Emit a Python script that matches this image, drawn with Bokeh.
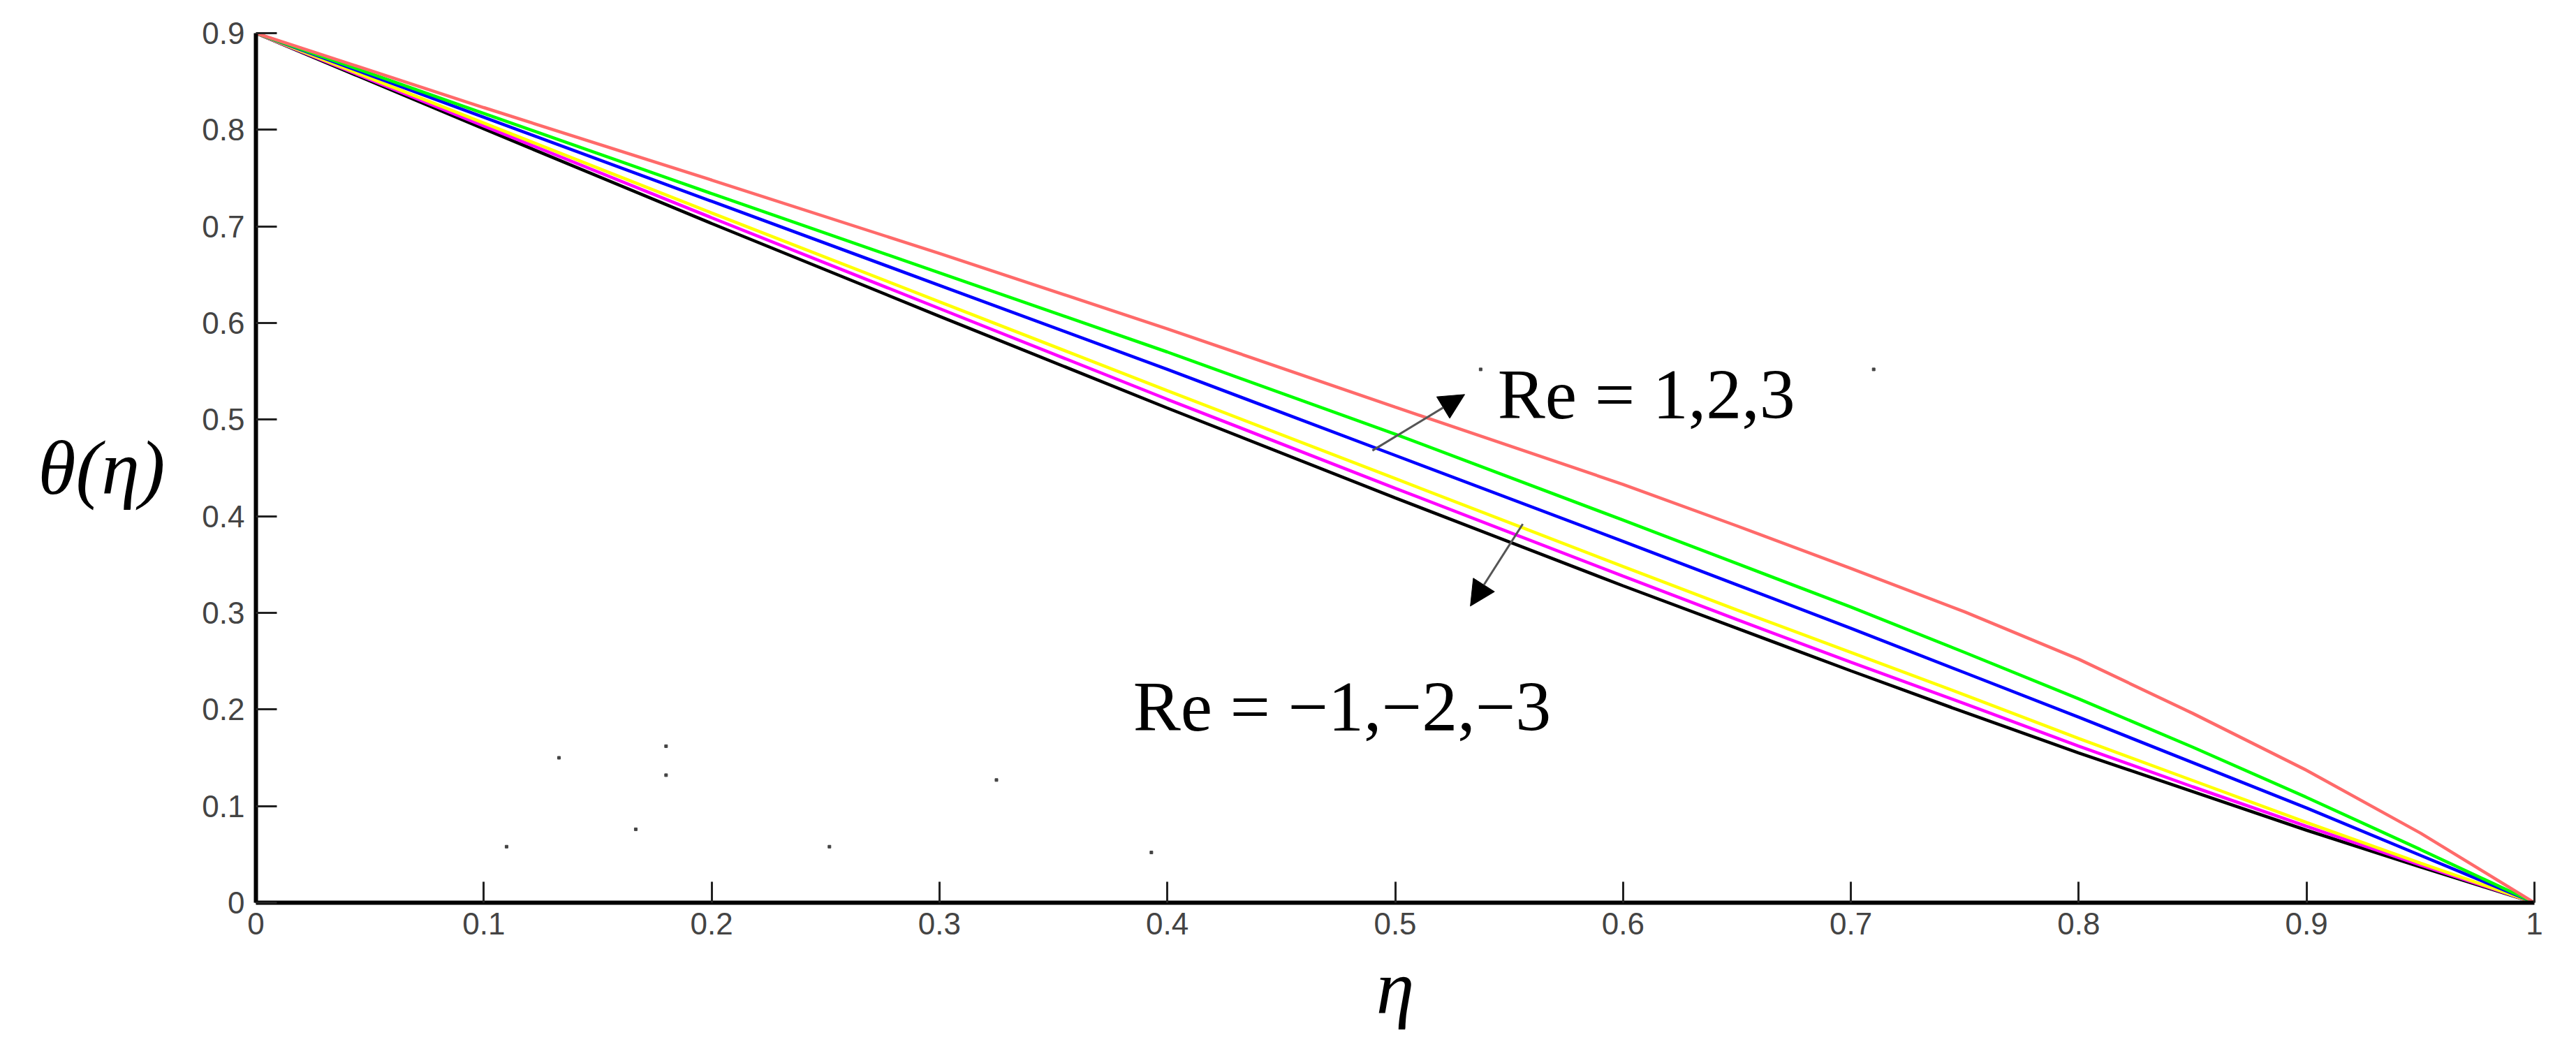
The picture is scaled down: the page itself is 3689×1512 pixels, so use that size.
from bokeh.plotting import figure
from bokeh.models import Range1d, Label, Arrow, NormalHead, FixedTicker
from bokeh.embed import file_html
from bokeh.resources import INLINE

eta = [0.0, 0.1, 0.2, 0.3, 0.4, 0.5, 0.6, 0.65, 0.7, 0.75, 0.8, 0.85, 0.9, 0.95, 1.0]

# theta(eta) for each Reynolds number
theta_re3 = [0.900, 0.823, 0.748, 0.672, 0.594, 0.513, 0.433, 0.390, 0.346, 0.301, 0.252, 0.196, 0.137, 0.072, 0.0]
theta_re2 = [0.900, 0.817, 0.734, 0.652, 0.570, 0.485, 0.396, 0.351, 0.306, 0.259, 0.211, 0.161, 0.109, 0.055, 0.0]
theta_re1 = [0.900, 0.813, 0.726, 0.639, 0.552, 0.463, 0.374, 0.329, 0.284, 0.238, 0.192, 0.145, 0.098, 0.049, 0.0]
theta_rem1 = [0.900, 0.807, 0.714, 0.622, 0.530, 0.439, 0.348, 0.303, 0.259, 0.215, 0.170, 0.1265, 0.083, 0.041, 0.0]
theta_rem2 = [0.900, 0.804, 0.709, 0.615, 0.521, 0.429, 0.338, 0.293, 0.249, 0.206, 0.162, 0.120, 0.079, 0.039, 0.0]
theta_rem3 = [0.900, 0.801, 0.703, 0.607, 0.512, 0.419, 0.328, 0.284, 0.240, 0.197, 0.155, 0.115, 0.075, 0.037, 0.0]

series = [
    (theta_rem3, "black"),
    (theta_rem2, "#ff00ff"),
    (theta_rem1, "#ffff00"),
    (theta_re1, "#0000ff"),
    (theta_re2, "#00ff00"),
    (theta_re3, "#ff6a6a"),
]

x_ticks = [0, 0.1, 0.2, 0.3, 0.4, 0.5, 0.6, 0.7, 0.8, 0.9, 1.0]
y_ticks = [0, 0.1, 0.2, 0.3, 0.4, 0.5, 0.6, 0.7, 0.8, 0.9]

# small specks scattered in the original image
speck_x = [0.110, 0.1667, 0.180, 0.180, 0.2517, 0.133, 0.325, 0.393, 0.5375, 0.710]
speck_y = [0.058, 0.076, 0.132, 0.162, 0.058, 0.150, 0.127, 0.052, 0.552, 0.552]

p = figure(width=3673, height=1496, output_backend="svg", toolbar_location=None,
           x_range=Range1d(0, 1), y_range=Range1d(0, 0.9),
           min_border_left=366, min_border_right=44, min_border_top=47, min_border_bottom=204)
p.outline_line_color = None
p.grid.visible = False
p.background_fill_color = "white"
p.border_fill_color = "white"

for ys, col in series:
    p.line(eta, ys, line_color=col, line_width=4.5)

p.scatter(speck_x, speck_y, marker="square", size=4, color="#444444")

for ax in (p.xaxis[0], p.yaxis[0]):
    ax.axis_line_width = 6
    ax.axis_line_color = "black"
    ax.major_tick_in = 30
    ax.major_tick_out = 0
    ax.major_tick_line_width = 3
    ax.major_tick_line_color = "#222222"
    ax.minor_tick_line_color = None
    ax.major_label_text_font = "Liberation Sans"
    ax.major_label_text_font_size = "44px"
    ax.major_label_text_color = "#444444"
    ax.axis_label_text_font = "Liberation Serif"
    ax.axis_label_text_font_style = "italic"
    ax.axis_label_text_font_size = "110px"
    ax.axis_label_text_color = "black"
p.xaxis.ticker = FixedTicker(ticks=x_ticks)
p.yaxis.ticker = FixedTicker(ticks=y_ticks)
p.xaxis.major_label_overrides = {0: "0", 1: "1"}
p.yaxis.major_label_overrides = {0: "0"}
p.xaxis.major_label_standoff = 14
p.yaxis.major_label_standoff = 16

# axis titles
p.yaxis.axis_label = "θ(η)"
p.yaxis.axis_label_orientation = "horizontal"
p.yaxis.axis_label_standoff = 50
p.xaxis.axis_label = "η"
p.xaxis.axis_label_standoff = 12

# annotations
p.add_layout(Label(x=0.545, y=0.526, text="Re = 1,2,3", text_font="Liberation Serif",
                   text_font_size="102px", text_color="black",
                   text_align="left", text_baseline="alphabetic"))
p.add_layout(Label(x=0.385, y=0.203, text="Re = −1,−2,−3", text_font="Liberation Serif",
                   text_font_size="102px", text_color="black",
                   text_align="left", text_baseline="alphabetic"))

p.add_layout(Arrow(end=NormalHead(size=36, fill_color="black", line_color="black"),
                   x_start=0.490, y_start=0.468, x_end=0.5305, y_end=0.526,
                   line_color="#555555", line_width=3))
p.add_layout(Arrow(end=NormalHead(size=36, fill_color="black", line_color="black"),
                   x_start=0.556, y_start=0.392, x_end=0.533, y_end=0.307,
                   line_color="#555555", line_width=3))

open("out.html", "w").write(file_html(p, INLINE))
